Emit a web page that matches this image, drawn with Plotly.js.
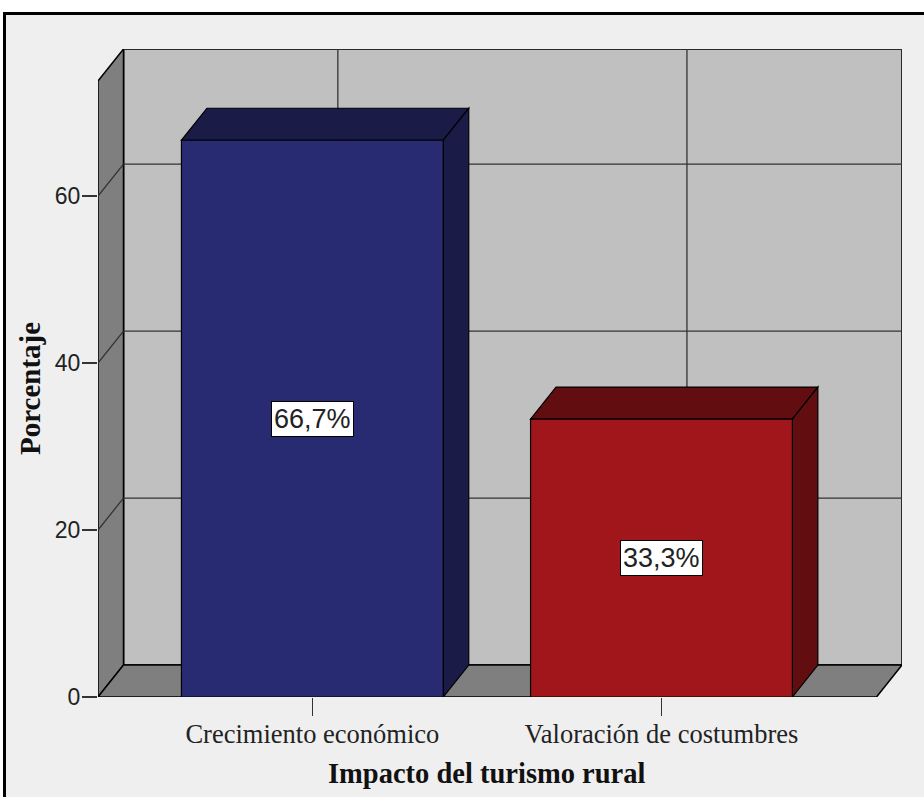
<!DOCTYPE html>
<html>
<head>
<meta charset="utf-8">
<script src="https://cdn.plot.ly/plotly-3.0.1.min.js"></script>
<style>
html, body { margin: 0; padding: 0; background: #ffffff; overflow: hidden; width: 924px; height: 797px; }
#frame { position: absolute; left: 3px; top: 12px; border-left: 3px solid #000; border-top: 3px solid #000; }
#chart { width: 924px; height: 790px; }
</style>
</head>
<body>
<div id="frame"><div id="chart"></div></div>
<script>
// ---- data ----
const categories = ["Crecimiento económico", "Valoración de costumbres"];
const percentages = [66.7, 33.3];
const yTickValues = [0, 20, 40, 60];
const yTickLabels = ["0", "20", "40", "60"];
const xAxisTitle = "Impacto del turismo rural";
const yAxisTitle = "Porcentaje";

// ---- styling / geometry ----
const frontColors = ["#282a72", "#a1161b"];
const darkColors = ["#1b1b48", "#620e11"];
const BAR_W = 0.75;
const X_MIN = -0.614, X_MAX = 1.616;   // front frame extent in x units
const Y_TOP = 73.8;                    // front frame top in y units
const DX = 0.073, DY = 3.83;           // 3D depth offset in axis units
const xPos = categories.map((_, i) => i);

const shapes = [];
const edge = {color: "#000", width: 1.5};
// back wall
shapes.push({type: "rect", xref: "x", yref: "y", layer: "below",
  x0: X_MIN + DX, x1: X_MAX + DX, y0: DY, y1: Y_TOP + DY,
  fillcolor: "#c0c0c0", line: {color: "#2a2a2a", width: 2}});
// left side wall
shapes.push({type: "path", xref: "x", yref: "y", layer: "below",
  path: `M${X_MIN},0 L${X_MIN + DX},${DY} L${X_MIN + DX},${Y_TOP + DY} L${X_MIN},${Y_TOP} Z`,
  fillcolor: "#7f7f7f", line: edge});
// floor
shapes.push({type: "path", xref: "x", yref: "y", layer: "below",
  path: `M${X_MIN},0 L${X_MAX},0 L${X_MAX + DX},${DY} L${X_MIN + DX},${DY} Z`,
  fillcolor: "#7f7f7f", line: edge});
// horizontal gridlines on back wall + diagonals on side wall
yTickValues.filter(v => v > 0).forEach(v => {
  shapes.push({type: "line", xref: "x", yref: "y", layer: "below",
    x0: X_MIN + DX, x1: X_MAX + DX, y0: v + DY, y1: v + DY, line: {color: "#333", width: 1.3}});
  shapes.push({type: "line", xref: "x", yref: "y", layer: "below",
    x0: X_MIN, x1: X_MIN + DX, y0: v, y1: v + DY, line: {color: "#333", width: 1.3}});
});
// vertical gridlines on back wall
xPos.forEach(x => {
  shapes.push({type: "line", xref: "x", yref: "y", layer: "below",
    x0: x + DX, x1: x + DX, y0: DY, y1: Y_TOP + DY, line: {color: "#333", width: 1.3}});
});
// bar top and side faces
xPos.forEach((x, i) => {
  const v = percentages[i], l = x - BAR_W / 2, r = x + BAR_W / 2;
  shapes.push({type: "path", xref: "x", yref: "y", layer: "below",
    path: `M${l},${v} L${l + DX},${v + DY} L${r + DX},${v + DY} L${r},${v} Z`,
    fillcolor: darkColors[i], line: {color: "#000", width: 1.2}});
  shapes.push({type: "path", xref: "x", yref: "y", layer: "below",
    path: `M${r},0 L${r + DX},${DY} L${r + DX},${v + DY} L${r},${v} Z`,
    fillcolor: darkColors[i], line: {color: "#000", width: 1.2}});
});

const annotations = xPos.map((x, i) => ({
  x: x, y: percentages[i] / 2, xref: "x", yref: "y",
  text: percentages[i].toFixed(1).replace(".", ",") + "%",
  showarrow: false, bgcolor: "#ffffff", bordercolor: "#000", borderwidth: 1, borderpad: 2,
  font: {family: "Liberation Sans Narrow, Liberation Sans, sans-serif", size: 27, color: "#222"}
}));
// y axis title, centred on the front frame height
annotations.push({
  x: 0, xref: "paper", xshift: -68, xanchor: "center",
  y: Y_TOP / 2, yref: "y", yanchor: "middle",
  text: yAxisTitle, textangle: -90, showarrow: false,
  font: {family: "Liberation Serif, serif", size: 29, color: "#111", weight: "bold"}
});
// x axis title, centred on the front frame width
annotations.push({
  x: (X_MIN + X_MAX) / 2, xref: "x", xanchor: "center",
  y: 0, yref: "paper", yshift: -76, yanchor: "middle",
  text: xAxisTitle, showarrow: false,
  font: {family: "Liberation Serif, serif", size: 28.5, color: "#111", weight: "bold"}
});

const trace = {
  type: "bar", x: xPos, y: percentages, width: BAR_W,
  marker: {color: frontColors, line: {color: "#000", width: 1.2}},
  hoverinfo: "skip"
};

const layout = {
  width: 924, height: 790,
  margin: {l: 92, r: 27.5, t: 34, b: 108},
  paper_bgcolor: "#efefef", plot_bgcolor: "rgba(0,0,0,0)",
  showlegend: false, bargap: 0,
  xaxis: {
    range: [X_MIN, X_MAX + DX], tickvals: xPos, ticktext: categories,
    showgrid: false, zeroline: false, showline: false,
    ticks: "outside", ticklen: 18, tickwidth: 1.5, tickcolor: "#333",
    ticklabelstandoff: -5,
    tickfont: {family: "Liberation Serif, serif", size: 26.5, color: "#222"}
  },
  yaxis: {
    range: [0, Y_TOP + DY], tickvals: yTickValues, ticktext: yTickLabels,
    showgrid: false, zeroline: false, showline: false,
    ticks: "outside", ticklen: 15, tickwidth: 1.5, tickcolor: "#333",
    ticklabelstandoff: -3,
    tickfont: {family: "Liberation Sans Narrow, Liberation Sans, sans-serif", size: 23, color: "#222"}
  },
  shapes: shapes,
  annotations: annotations
};

Plotly.newPlot("chart", [trace], layout, {displayModeBar: false, staticPlot: true});
</script>
</body>
</html>
